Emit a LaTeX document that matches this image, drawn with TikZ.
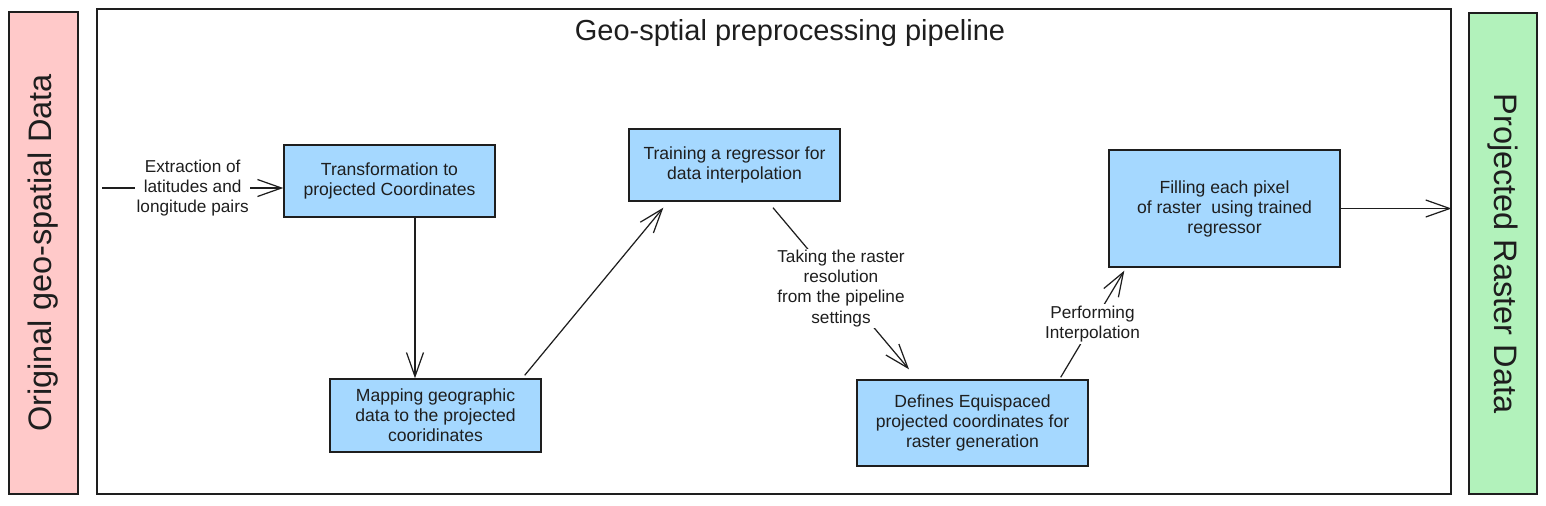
\documentclass[tikz,border=0pt]{standalone}
\usepackage{fontspec}
\setmainfont{Liberation Sans}
\usepackage{tikz}
\usetikzlibrary{arrows.meta,positioning}

\definecolor{ink}{HTML}{1E1E1E}
\definecolor{boxblue}{HTML}{A5D8FF}
\definecolor{barpink}{HTML}{FFC9C9}
\definecolor{bargreen}{HTML}{B2F2BB}

\begin{document}
\begin{tikzpicture}[x=0.02cm,y=-0.02cm,
  ink, line width=0.7pt,
  stage/.style={draw=ink, fill=boxblue, line width=0.8pt, align=center, text=ink,
    font=\fontsize{10}{11.4}\selectfont},
  bar/.style={draw=ink, line width=0.8pt, text=ink, font=\fontsize{18.5}{22}\selectfont},
  lbl/.style={fill=white, align=center, text=ink, inner sep=1pt,
    font=\fontsize{9.8}{11.4}\selectfont},
  arr/.style={-{Straight Barb[length=0.48cm,width=0.34cm]}}]

\useasboundingbox (0,0) rectangle (1546,505);

\node(orig)[bar, fill=barpink, rotate=90, minimum width=9.64cm, minimum height=1.38cm] at (43.5,253) {Original geo-spatial Data};

\node(frame)[draw=ink, line width=0.8pt, minimum width=27.08cm, minimum height=9.7cm] at (774,251.5) {};

\node(title)[text=ink, font=\fontsize{16.5}{20}\selectfont] at (790,33) {Geo-sptial preprocessing pipeline};

\node(proj)[bar, fill=bargreen, rotate=-90, minimum width=9.62cm, minimum height=1.36cm] at (1503,253.5) {Projected Raster Data};

\node(transf)[stage, minimum width=4.22cm, minimum height=1.44cm] at (389.5,181) {Transformation to\\projected Coordinates};

\node(mapping)[stage, minimum width=4.22cm, minimum height=1.46cm] at (435.5,415.5) {Mapping geographic\\data to the projected\\cooridinates};

\node(training)[stage, minimum width=4.22cm, minimum height=1.44cm] at (734.5,165) {Training a regressor for\\data interpolation};

\node(defines)[stage, minimum width=4.62cm, minimum height=1.72cm] at (972.5,423) {Defines Equispaced\\projected coordinates for\\raster generation};

\node(filling)[stage, minimum width=4.62cm, minimum height=2.34cm] at (1224.5,208.5) {Filling each pixel\\of raster\ \ using trained\\regressor};

\coordinate(src) at (102,188);

\draw[arr] (src) -- (src -| transf.west) node [midway, lbl] {Extraction of\\latitudes and\\longitude pairs};

\draw[arr] ([xshift=0.51cm]transf.south) -- ([xshift=0.51cm]transf.south |- mapping.north);

\draw[arr] ([shift={(-0.34cm,0.06cm)}]mapping.north east) -- ([shift={(0.7cm,-0.12cm)}]training.south west);

\draw[arr] ([shift={(0.77cm,-0.12cm)}]training.south) -- ([shift={(-1.27cm,0.2cm)}]defines.north) node [midway, lbl] {Taking the raster\\resolution\\from the pipeline\\settings};

\draw[arr] ([shift={(-0.56cm,0.04cm)}]defines.north east) -- ([shift={(0.32cm,-0.06cm)}]filling.south west) node [midway, lbl] {Performing\\Interpolation};

\draw[arr] (filling.east) -- (filling.east -| frame.east);

\end{tikzpicture}
\end{document}
